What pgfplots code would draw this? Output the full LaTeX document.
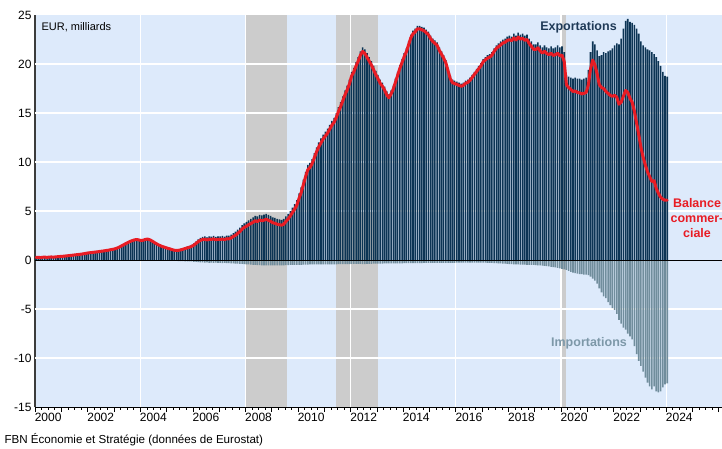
\documentclass[border=0pt]{standalone}
\usepackage{pgfplots}
\pgfplotsset{compat=1.18}
\usepackage{pgfplotstable}
\usepackage{fontspec}
\setmainfont{Liberation Sans}
\definecolor{bgblue}{RGB}{221,234,251}
\definecolor{recgray}{RGB}{204,204,204}
\definecolor{expcol}{RGB}{12,52,84}
\definecolor{impcol}{RGB}{112,141,156}
\definecolor{balred}{RGB}{232,28,36}
\definecolor{exptext}{RGB}{31,58,87}
\definecolor{imptext}{RGB}{125,152,168}
\definecolor{axisgray}{RGB}{60,60,60}
\pgfplotstableread{
E I B
0.30 -0.04 0.26
0.31 -0.04 0.27
0.29 -0.04 0.25
0.32 -0.04 0.28
0.33 -0.04 0.29
0.31 -0.04 0.27
0.34 -0.04 0.30
0.35 -0.04 0.31
0.33 -0.04 0.29
0.36 -0.04 0.32
0.38 -0.04 0.34
0.40 -0.04 0.36
0.42 -0.05 0.37
0.45 -0.05 0.40
0.47 -0.05 0.42
0.50 -0.05 0.45
0.52 -0.05 0.47
0.55 -0.05 0.50
0.58 -0.05 0.53
0.60 -0.05 0.55
0.63 -0.05 0.58
0.66 -0.05 0.61
0.70 -0.05 0.65
0.74 -0.05 0.69
0.78 -0.05 0.73
0.80 -0.05 0.75
0.83 -0.05 0.78
0.86 -0.05 0.81
0.88 -0.05 0.83
0.92 -0.05 0.87
0.95 -0.05 0.90
0.98 -0.05 0.93
1.02 -0.05 0.97
1.05 -0.05 1.00
1.10 -0.05 1.05
1.14 -0.05 1.09
1.20 -0.06 1.14
1.28 -0.06 1.22
1.38 -0.06 1.32
1.50 -0.06 1.44
1.62 -0.06 1.56
1.74 -0.06 1.68
1.86 -0.06 1.80
1.96 -0.06 1.90
2.05 -0.06 1.99
2.12 -0.06 2.06
2.15 -0.06 2.09
2.10 -0.06 2.04
2.05 -0.07 1.98
2.10 -0.07 2.03
2.18 -0.07 2.11
2.20 -0.07 2.13
2.12 -0.07 2.05
2.00 -0.07 1.93
1.85 -0.07 1.78
1.72 -0.07 1.65
1.60 -0.07 1.53
1.50 -0.07 1.43
1.42 -0.07 1.35
1.35 -0.07 1.28
1.28 -0.08 1.20
1.22 -0.08 1.14
1.15 -0.09 1.06
1.10 -0.10 1.00
1.08 -0.10 0.98
1.10 -0.11 0.99
1.15 -0.12 1.03
1.22 -0.12 1.10
1.30 -0.13 1.17
1.38 -0.14 1.24
1.45 -0.15 1.30
1.55 -0.15 1.40
1.70 -0.18 1.52
1.90 -0.20 1.70
2.10 -0.22 1.88
2.25 -0.25 2.00
2.35 -0.25 2.10
2.40 -0.28 2.12
2.30 -0.25 2.05
2.42 -0.30 2.12
2.38 -0.28 2.10
2.45 -0.30 2.15
2.35 -0.28 2.07
2.40 -0.30 2.10
2.40 -0.30 2.10
2.45 -0.32 2.13
2.38 -0.30 2.08
2.50 -0.33 2.17
2.48 -0.32 2.16
2.60 -0.35 2.25
2.75 -0.35 2.40
2.90 -0.38 2.52
3.10 -0.38 2.72
3.30 -0.40 2.90
3.55 -0.40 3.15
3.75 -0.42 3.33
3.90 -0.45 3.45
4.05 -0.45 3.60
4.20 -0.48 3.72
4.35 -0.50 3.85
4.50 -0.50 4.00
4.45 -0.52 3.93
4.60 -0.52 4.08
4.55 -0.55 4.00
4.62 -0.55 4.07
4.70 -0.55 4.15
4.60 -0.55 4.05
4.50 -0.55 3.95
4.35 -0.55 3.80
4.30 -0.55 3.75
4.20 -0.55 3.65
4.15 -0.55 3.60
4.10 -0.55 3.55
4.20 -0.55 3.65
4.45 -0.52 3.93
4.70 -0.52 4.18
5.00 -0.50 4.50
5.35 -0.50 4.85
5.70 -0.50 5.20
6.10 -0.50 5.60
6.80 -0.50 6.30
7.40 -0.50 6.90
8.20 -0.48 7.72
9.00 -0.48 8.52
9.70 -0.48 9.22
9.90 -0.45 9.45
10.30 -0.45 9.85
10.90 -0.45 10.45
11.50 -0.45 11.05
12.00 -0.45 11.55
12.40 -0.45 11.95
12.80 -0.45 12.35
13.10 -0.45 12.65
13.40 -0.45 12.95
13.80 -0.44 13.36
14.20 -0.44 13.76
14.50 -0.44 14.06
15.00 -0.44 14.56
15.60 -0.43 15.17
16.10 -0.43 15.67
16.70 -0.43 16.27
17.30 -0.42 16.88
17.80 -0.42 17.38
18.40 -0.42 17.98
19.20 -0.40 18.80
19.60 -0.40 19.20
20.20 -0.40 19.80
20.70 -0.40 20.30
21.30 -0.40 20.90
21.70 -0.42 21.28
21.50 -0.42 21.08
21.10 -0.40 20.70
20.70 -0.40 20.30
20.30 -0.40 19.90
19.80 -0.38 19.42
19.30 -0.38 18.92
18.90 -0.38 18.52
18.40 -0.36 18.04
18.10 -0.36 17.74
17.70 -0.35 17.35
17.20 -0.35 16.85
16.90 -0.35 16.55
17.30 -0.35 16.95
17.80 -0.35 17.45
18.50 -0.35 18.15
19.20 -0.34 18.86
19.90 -0.34 19.56
20.50 -0.34 20.16
21.10 -0.33 20.77
21.60 -0.33 21.27
22.30 -0.33 21.97
23.00 -0.32 22.68
23.40 -0.32 23.08
23.60 -0.32 23.28
23.90 -0.31 23.59
23.90 -0.31 23.59
23.80 -0.31 23.49
23.70 -0.30 23.40
23.50 -0.30 23.20
23.30 -0.30 23.00
22.90 -0.30 22.60
22.60 -0.30 22.30
22.40 -0.30 22.10
22.20 -0.30 21.90
21.70 -0.30 21.40
21.30 -0.30 21.00
20.90 -0.30 20.60
20.40 -0.30 20.10
19.60 -0.30 19.30
18.80 -0.30 18.50
18.40 -0.30 18.10
18.30 -0.30 18.00
18.20 -0.28 17.92
18.10 -0.28 17.82
18.00 -0.28 17.72
18.10 -0.27 17.83
18.30 -0.27 18.03
18.40 -0.27 18.13
18.60 -0.27 18.33
18.90 -0.27 18.63
19.20 -0.27 18.93
19.50 -0.28 19.22
19.80 -0.28 19.52
20.10 -0.28 19.82
20.50 -0.28 20.22
20.70 -0.28 20.42
20.90 -0.30 20.60
21.00 -0.30 20.70
21.20 -0.30 20.90
21.60 -0.32 21.28
21.90 -0.32 21.58
22.10 -0.34 21.76
22.30 -0.35 21.95
22.50 -0.36 22.14
22.60 -0.38 22.22
22.80 -0.40 22.40
22.90 -0.42 22.48
22.80 -0.42 22.38
23.10 -0.44 22.66
22.90 -0.45 22.45
23.20 -0.45 22.75
23.00 -0.46 22.54
23.10 -0.48 22.62
22.90 -0.48 22.42
23.00 -0.50 22.50
22.60 -0.50 22.10
22.30 -0.50 21.80
22.00 -0.50 21.50
22.00 -0.52 21.48
22.20 -0.55 21.65
21.90 -0.55 21.35
21.70 -0.58 21.12
21.90 -0.60 21.30
21.70 -0.62 21.08
21.60 -0.65 20.95
21.80 -0.70 21.10
21.60 -0.72 20.88
21.70 -0.75 20.95
21.90 -0.80 21.10
21.70 -0.85 20.85
21.80 -0.90 20.90
21.20 -0.95 20.25
18.90 -1.00 17.90
18.70 -1.10 17.60
18.60 -1.20 17.40
18.50 -1.30 17.20
18.60 -1.35 17.25
18.50 -1.40 17.10
18.50 -1.45 17.05
18.40 -1.45 16.95
18.50 -1.50 17.00
18.60 -1.50 17.10
19.40 -1.55 17.85
21.20 -1.70 19.50
22.30 -1.90 20.40
22.00 -2.10 19.90
21.40 -2.40 19.00
20.80 -2.90 17.90
20.90 -3.30 17.60
21.20 -3.70 17.50
21.10 -3.90 17.20
21.30 -4.30 17.00
21.40 -4.60 16.80
21.60 -4.90 16.70
21.90 -5.10 16.80
22.10 -5.50 16.60
22.00 -6.10 15.90
22.60 -6.50 16.10
23.60 -6.90 16.70
24.40 -7.10 17.30
24.60 -7.50 17.10
24.30 -7.80 16.50
24.20 -8.10 16.10
24.00 -8.80 15.20
23.60 -9.60 14.00
23.10 -10.30 12.80
22.30 -10.80 11.50
21.90 -11.40 10.50
21.70 -12.00 9.70
21.50 -12.50 9.00
21.40 -12.90 8.50
21.20 -13.20 8.00
21.00 -12.90 8.10
20.70 -13.40 7.30
20.30 -13.50 6.80
19.80 -13.40 6.40
19.20 -13.00 6.20
18.80 -12.70 6.10
18.70 -12.60 6.10
}\trade
\begin{document}
\begin{tikzpicture}
\useasboundingbox (-35pt,-41pt) rectangle (687pt,407pt);
\begin{axis}[
  at={(0pt,0pt)}, anchor=south west,
  scale only axis, width=687pt, height=392pt,
  xmin=0, xmax=313.5, ymin=-15, ymax=25,
  axis x line*=bottom, axis y line*=left,
  x axis line style={black, line width=0.6pt},
  y axis line style={axisgray, line width=2.2pt},
  axis background/.style={fill=bgblue},
  tick align=outside,
  major tick length=0pt, minor tick length=2.5pt,
  tick style={black, line width=0.5pt},
  every y tick/.style={draw=none},
  xtick={6,30,54,78,102,126,150,174,198,222,246,270,294},
  xticklabels={2000,2002,2004,2006,2008,2010,2012,2014,2016,2018,2020,2022,2024},
  minor xtick={0,3,...,312},
  extra x ticks={0,12,...,312},
  extra x tick labels={},
  extra x tick style={major tick length=5pt},
  ytick={-15,-10,-5,0,5,10,15,20,25},
  yticklabels={-15,-10,-5,0,5,10,15,20,25},
  tick label style={font=\fontsize{12}{14}\selectfont, black},
  xticklabel style={yshift=-3pt},
  no markers,
  clip=true,
]
% recessions
\addplot[fill=recgray, draw=none] coordinates {(96,-15) (96,25) (115,25) (115,-15)} -- cycle;
\addplot[fill=recgray, draw=none] coordinates {(137.5,-15) (137.5,25) (156.5,25) (156.5,-15)} -- cycle;
\addplot[fill=recgray, draw=none] coordinates {(239.5,-15) (239.5,25) (242.5,25) (242.5,-15)} -- cycle;
% grid
\pgfplotsinvokeforeach{-10,-5,5,10,15,20}{\draw[white, line width=1.2pt] (axis cs:0,#1) -- (axis cs:313.5,#1);}
\pgfplotsinvokeforeach{48,96,144,192,240,288}{\draw[white, line width=1.2pt] (axis cs:#1,-15) -- (axis cs:#1,25);}
% bars
\addplot[ybar, bar width=0.72, bar shift=0pt, fill=expcol, draw=none] table[x expr=\coordindex+0.5, y=E] {\trade};
\addplot[ybar, bar width=0.72, bar shift=0pt, fill=impcol, draw=none] table[x expr=\coordindex+0.5, y=I] {\trade};
\draw[black, line width=0.8pt] (axis cs:0,0) -- (axis cs:313.5,0);
\addplot[balred, line width=3pt, line join=round, line cap=round] table[x expr=\coordindex+0.5, y=B] {\trade};
\end{axis}
\node[anchor=west, font=\fontsize{11}{13}\selectfont] at (3pt,380pt) {EUR, milliards};
\node[font=\fontsize{12.5}{15}\selectfont\bfseries, text=exptext] at (543.5pt,380pt) {Exportations};
\node[font=\fontsize{12.5}{15}\selectfont\bfseries, text=imptext] at (554pt,64pt) {Importations};
\node[font=\fontsize{12.5}{15}\selectfont\bfseries, text=balred, align=center] at (662pt,189pt) {Balance\\commer-\\ciale};
\node[anchor=west, font=\fontsize{11.6}{13}\selectfont] at (-34pt,-33pt) {FBN Économie et Stratégie (données de Eurostat)};
\end{tikzpicture}
\end{document}
